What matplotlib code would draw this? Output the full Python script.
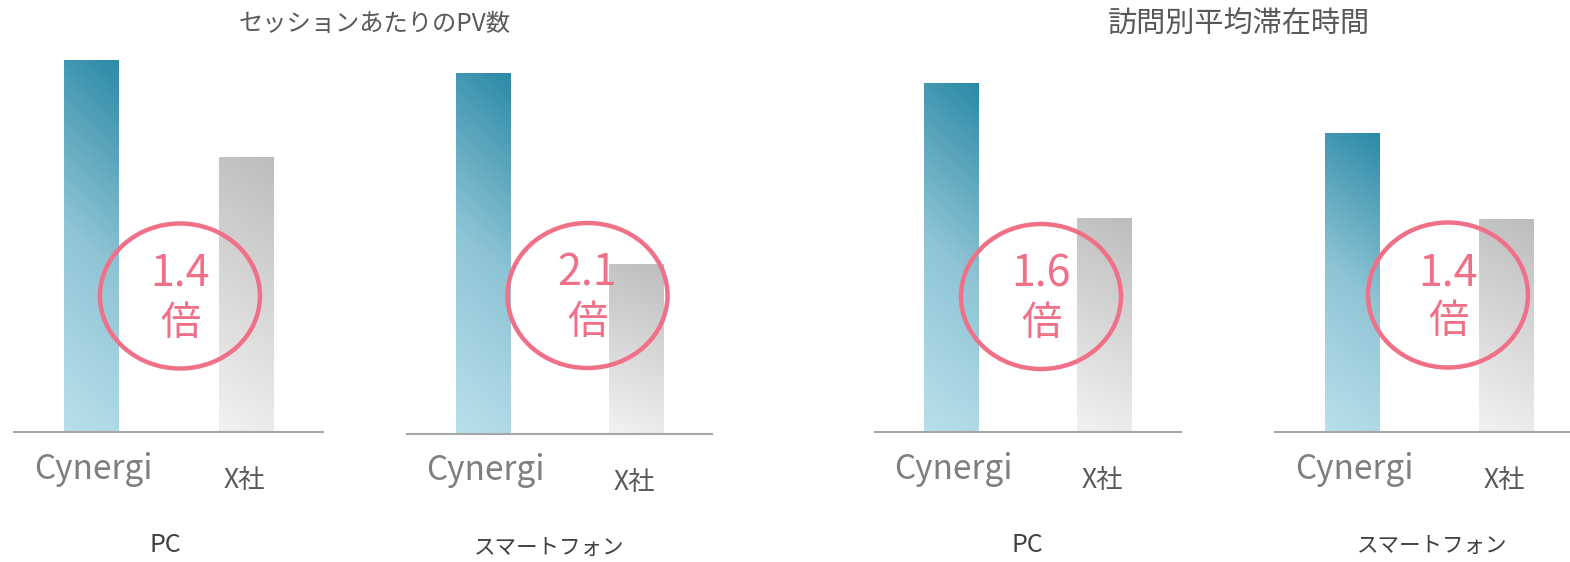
import numpy as np
import matplotlib
matplotlib.use("Agg")
import matplotlib.pyplot as plt
from matplotlib.patches import Ellipse
from matplotlib.colors import LinearSegmentedColormap

plt.rcParams['font.family'] = ['Noto Sans CJK JP', 'DejaVu Sans']

# ---- data ----
chart_titles = ["セッションあたりのPV数", "訪問別平均滞在時間"]
devices = ["PC", "スマートフォン", "PC", "スマートフォン"]
companies = ["Cynergi", "X社"]
cynergi_values = [3.72, 3.59, 3.49, 2.99]
x_values = [2.75, 1.69, 2.14, 2.13]
ratio_labels = ["1.4", "2.1", "1.6", "1.4"]
unit_label = "倍"

# ---- layout (pixels) ----
W, H = 1570, 562
fig = plt.figure(figsize=(W / 100, H / 100), dpi=100)

panel_centers = [(91.5, 246), (483.5, 636), (951, 1104), (1352, 1506)]
baselines = [432, 433.5, 432, 432]
top_px = 50
ymax = 3.82
bar_px = 55
circles = [(180, 296), (587.5, 295.5), (1041, 296.5), (1448, 295)]
circle_w, circle_h = 160, 145
device_dx = [-3, -11, 0, 3]

teal = LinearSegmentedColormap.from_list("teal", ["#B9E0EB", "#8EC4D5", "#2C8AA6"])
gray = LinearSegmentedColormap.from_list("gray", ["#F2F2F2", "#BDBDBD"])


def grad(n=200):
    yy, xx = np.mgrid[0:1:n * 1j, 0:1:40j]
    return np.clip(0.88 * yy + 0.12 * xx, 0, 1)


for i in range(4):
    c0, c1 = panel_centers[i]
    sp = c1 - c0
    left = c0 - sp / 2
    base = baselines[i]
    ax = fig.add_axes([left / W, (H - base) / H, 2 * sp / W, (base - top_px) / H])
    ax.set_xlim(-0.5, 1.5)
    ax.set_ylim(0, ymax)
    vals = [cynergi_values[i], x_values[i]]
    bars = ax.bar([0, 1], vals, width=bar_px / sp, color="none", edgecolor="none")
    for b, cmap in zip(bars, [teal, gray]):
        x0, y0 = b.get_x(), b.get_y()
        im = ax.imshow(grad(), extent=[x0, x0 + b.get_width(), y0, y0 + b.get_height()],
                       origin="lower", aspect="auto", cmap=cmap, vmin=0, vmax=1, zorder=2)
        im.set_clip_path(b)
    ax.set_xlim(-0.5, 1.5)
    ax.set_ylim(0, ymax)
    for s in ["top", "right", "left"]:
        ax.spines[s].set_visible(False)
    ax.spines["bottom"].set_color("#A6A6A6")
    ax.spines["bottom"].set_linewidth(1.5)
    ax.spines["bottom"].set_zorder(3)
    ax.set_xticks([])
    ax.set_yticks([])
    ax.patch.set_alpha(0)

    # company labels
    ax.annotate(companies[0], xy=(0, 0), xycoords=("data", "axes fraction"),
                xytext=(1.5, -47 * 0.72), textcoords="offset points",
                ha="center", va="baseline", fontsize=24, color="#7F7F7F")
    ax.annotate(companies[1], xy=(1, 0), xycoords=("data", "axes fraction"),
                xytext=(-1, -56 * 0.72), textcoords="offset points",
                ha="center", va="baseline", fontsize=19, color="#595959")
    # device label
    ax.annotate(devices[i], xy=(0.5, 0), xycoords=("data", "axes fraction"),
                xytext=(device_dx[i] * 0.72, -120 * 0.72), textcoords="offset points",
                ha="center", va="baseline", fontsize=18 if devices[i] == "PC" else 15.5,
                color="#404040")

    # ratio circle
    cx, cy = circles[i]
    e = Ellipse((cx / W, 1 - cy / H), circle_w / W, circle_h / H, transform=fig.transFigure,
                facecolor="none", edgecolor="#F07187", linewidth=3.2, zorder=10)
    fig.add_artist(e)
    fig.text(cx / W, 1 - (cy - 22) / H, ratio_labels[i], ha="center", va="center",
             fontsize=31, color="#F07187", zorder=11)
    fig.text(cx / W, 1 - (cy + 27) / H, unit_label, ha="center", va="center",
             fontsize=29, color="#F07187", zorder=11)

fig.text(374.5 / W, 1 - 24 / H, chart_titles[0], ha="center", va="center",
         fontsize=17.5, color="#595959")
fig.text(1238.5 / W, 1 - 24 / H, chart_titles[1], ha="center", va="center",
         fontsize=21, color="#595959")

fig.savefig("out.png", dpi=100)
